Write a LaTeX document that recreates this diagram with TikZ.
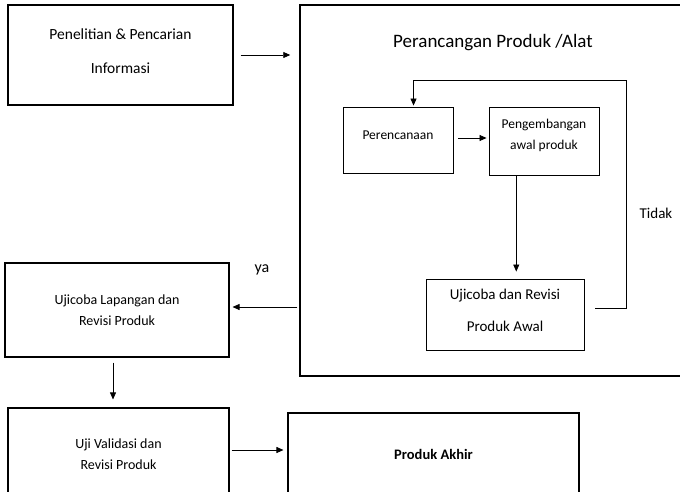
\documentclass[tikz,border=0pt]{standalone}
\usepackage{fontspec}
\setmainfont{Carlito}
\usetikzlibrary{calc,arrows.meta}
\tikzset{
  box/.style={draw, line width=1.1pt, align=center, inner sep=0pt,
    font=\fontsize{14}{21}\selectfont},
  innerbox/.style={draw, line width=0.9pt, align=center, inner sep=0pt,
    font=\fontsize{13.5}{21}\selectfont},
  flow/.style={-{Triangle[length=7pt,width=6pt]}, line width=0.8pt}
}
\begin{document}
\begin{tikzpicture}[x=1pt, y=-1pt]

  % page frame
  \useasboundingbox (0,0) rectangle (680,492);
  \clip (0,0) rectangle (680,492);

  % left column
  \node[box, minimum width=225pt, minimum height=100pt,
    font=\fontsize{15.5}{21}\selectfont] (riset) at (120.5,55)
    {Penelitian \& Pencarian\\[13pt]Informasi\\[-13pt]};
  \node[box, minimum width=224pt, minimum height=94pt] (lapangan) at (117,310)
    {Ujicoba Lapangan dan\\Revisi Produk};
  \node[box, minimum width=221pt, minimum height=92pt] (validasi) at (118.5,454)
    {Uji Validasi dan\\Revisi Produk};
  \node[box, minimum width=291pt, minimum height=82pt,
    font=\fontsize{14.5}{18}\selectfont\bfseries] (akhir) at (433.5,454)
    {Produk Akhir};

  % design block
  \node[draw, line width=1.5pt, minimum width=400pt, minimum height=371pt] (rancang)
    at (500,190.5) {};
  \node[font=\fontsize{19}{22}\selectfont] (judul) at (493,43)
    {Perancangan Produk /Alat};
  \node[innerbox, minimum width=110pt, minimum height=66pt] (rencana) at (398,140)
    {Perencanaan\\[-11pt]};
  \node[innerbox, minimum width=110pt, minimum height=68pt] (kembang) at (544,141)
    {Pengembangan\\awal produk\\[-8pt]};
  \node[innerbox, minimum width=158pt, minimum height=71pt,
    font=\fontsize{15}{21}\selectfont] (ujiawal) at (505,314.5)
    {Ujicoba dan Revisi\\[11pt]Produk Awal\\[-13pt]};

  % connectors
  \draw[flow, shorten <=7pt, shorten >=9pt] (riset.east) -- (riset.east -| rancang.west);
  \draw[flow, shorten <=5pt, shorten >=2pt] (rencana.east |- 0,138) -- (kembang.west |- 0,138);
  \coordinate (turunA) at ($(kembang.south west)!0.25!(kembang.south east)$);
  \draw[flow, shorten >=7pt] (turunA) -- (turunA |- ujiawal.north);

  % loop back (Tidak)
  \coordinate (balikA) at (595,308);
  \coordinate (balikB) at (626,80);
  \coordinate (masuk) at ($(rencana.north west)!0.64!(rencana.north east)$);
  \draw[flow, line width=0.7pt, shorten >=1pt] (balikA) -| (balikB) -| (masuk);
  \node[font=\fontsize{15}{18}\selectfont] (tidak) at (656,213) {Tidak};

  % out of design block (ya)
  \draw[flow, shorten <=2pt, shorten >=3pt] (rancang.west |- 0,307) -- (lapangan.east |- 0,307);
  \node[font=\fontsize{16}{18}\selectfont] (ya) at (262,270) {ya};

  \draw[flow, line width=0.7pt, shorten <=5pt, shorten >=8pt]
    (lapangan.south -| 113,0) -- (validasi.north -| 113,0);
  \draw[flow, shorten <=2pt, shorten >=4pt] (validasi.east |- 0,450) -- (akhir.west |- 0,450);

\end{tikzpicture}
\end{document}
